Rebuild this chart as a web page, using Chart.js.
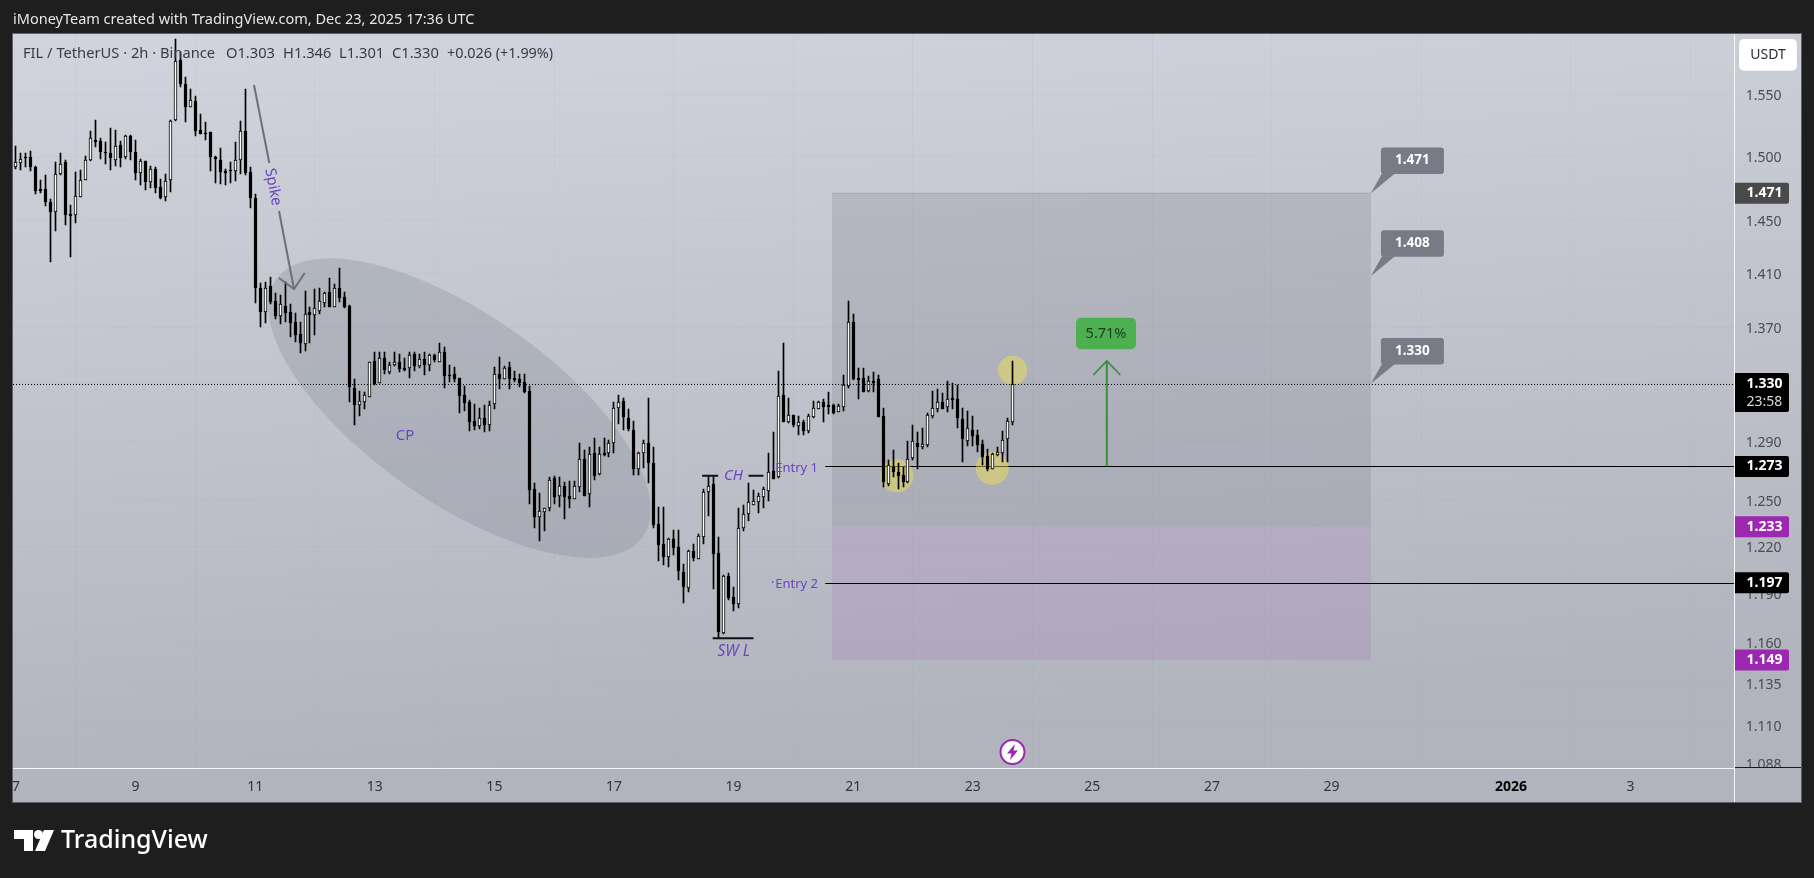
<!DOCTYPE html>
<html><head><meta charset="utf-8"><title>FIL / TetherUS</title>
<style>html,body{margin:0;padding:0;background:#1e1e1e;overflow:hidden}canvas{display:block}</style>
<script src="https://cdn.jsdelivr.net/npm/chart.js@4"></script></head>
<body><canvas id="c" width="1814" height="878" style="width:1814px;height:878px"></canvas>
<script>
const opens=[1.4915,1.4949,1.4994,1.4994,1.4915,1.4743,1.4743,1.4642,1.4567,1.4858,
1.4954,1.4549,1.4544,1.4683,1.4815,1.4972,1.5130,1.5120,1.5034,1.5026,
1.4972,1.5088,1.4994,1.5162,1.5034,1.4870,1.4960,1.4800,1.4897,1.4756,
1.4678,1.4811,1.5289,1.5784,1.5582,1.5399,1.5445,1.5210,1.5188,1.5191,
1.4994,1.4968,1.4884,1.4890,1.4882,1.4968,1.5202,1.4873,1.4670,1.3988,
1.3811,1.4005,1.3891,1.3786,1.3857,1.3813,1.3741,1.3655,1.3580,1.3813,
1.3789,1.3823,1.3877,1.3958,1.3852,1.3988,1.3921,1.3857,1.3267,1.3152,
1.3173,1.3209,1.3458,1.3307,1.3479,1.3382,1.3430,1.3451,1.3408,1.3408,
1.3510,1.3425,1.3472,1.3430,1.3500,1.3455,1.3522,1.3360,1.3369,1.3338,
1.3220,1.3171,1.3037,1.3005,1.3058,1.3012,1.3155,1.3367,1.3336,1.3416,
1.3340,1.3331,1.3312,1.3246,1.2577,1.2396,1.2429,1.2455,1.2650,1.2535,
1.2597,1.2533,1.2515,1.2594,1.2778,1.2548,1.2818,1.2677,1.2818,1.2818,
1.2887,1.3127,1.3178,1.3058,1.2975,1.2715,1.2823,1.2887,1.2751,1.2346,
1.2218,1.2136,1.2250,1.2199,1.2036,1.1935,1.2174,1.2124,1.2266,1.2557,
1.2610,1.2159,1.1658,1.2013,1.1882,1.1836,1.2324,1.2416,1.2475,1.2495,
1.2528,1.2568,1.2699,1.2657,1.3220,1.3034,1.3080,1.3007,1.3032,1.2971,
1.3067,1.3125,1.3169,1.3150,1.3150,1.3104,1.3138,1.3286,1.3738,1.3340,
1.3338,1.3246,1.3317,1.3333,1.3074,1.2612,1.2728,1.2695,1.2670,1.2628,
1.2789,1.2887,1.2864,1.2877,1.3075,1.3125,1.3171,1.3138,1.3199,1.3192,
1.3052,1.2904,1.2978,1.2943,1.2882,1.2800,1.2715,1.2807,1.2823,1.2918,1.303];
const highs=[1.5082,1.5024,1.5029,1.5042,1.4923,1.4813,1.4852,1.4665,1.4954,1.5024,
1.4968,1.4618,1.4876,1.4891,1.5002,1.5200,1.5291,1.5143,1.5114,1.5226,
1.5207,1.5124,1.5170,1.5170,1.5128,1.4976,1.4960,1.4923,1.4917,1.4821,
1.4858,1.5291,1.5960,1.5851,1.5640,1.5541,1.5486,1.5340,1.5275,1.5194,
1.5002,1.5066,1.4897,1.4957,1.5116,1.5283,1.5541,1.4913,1.4704,1.4030,
1.4035,1.4070,1.3955,1.3937,1.4037,1.3870,1.3803,1.3741,1.3966,1.3852,
1.3983,1.3988,1.3963,1.4063,1.4018,1.4137,1.3963,1.3864,1.3331,1.3248,
1.3241,1.3455,1.3522,1.3522,1.3522,1.3451,1.3522,1.3510,1.3479,1.3524,
1.3527,1.3508,1.3522,1.3510,1.3508,1.3587,1.3558,1.3432,1.3416,1.3338,
1.3284,1.3185,1.3157,1.3127,1.3150,1.3178,1.3420,1.3486,1.3427,1.3451,
1.3390,1.3369,1.3369,1.3284,1.2617,1.2551,1.2455,1.2657,1.2668,1.2657,
1.2624,1.2632,1.2632,1.2887,1.2841,1.2859,1.2921,1.2859,1.2925,1.2909,
1.3173,1.3220,1.3197,1.3122,1.3039,1.2829,1.2909,1.3197,1.2859,1.2462,
1.2458,1.2255,1.2309,1.2309,1.2089,1.2180,1.2218,1.2283,1.2577,1.2668,
1.2668,1.2262,1.2019,1.2030,1.1945,1.2451,1.2473,1.2617,1.2572,1.2551,
1.2594,1.2819,1.2966,1.3392,1.3587,1.3197,1.3080,1.3074,1.3046,1.3088,
1.3178,1.3178,1.3195,1.3241,1.3157,1.3157,1.3362,1.3894,1.3799,1.3408,
1.3408,1.3354,1.3385,1.3362,1.3127,1.2773,1.2841,1.2751,1.2728,1.2902,
1.3012,1.2962,1.2989,1.3093,1.3248,1.3263,1.3232,1.3319,1.3303,1.3291,
1.3127,1.3109,1.3074,1.2978,1.2909,1.2848,1.2823,1.2864,1.2971,1.3058,1.346];
const lows=[1.4899,1.4894,1.4913,1.4886,1.4704,1.4714,1.4611,1.4186,1.4422,1.4855,
1.4465,1.4224,1.4482,1.4680,1.4813,1.4965,1.5076,1.4978,1.4939,1.4891,
1.4925,1.4917,1.4980,1.4970,1.4813,1.4774,1.4735,1.4751,1.4714,1.4665,
1.4652,1.4719,1.5285,1.5558,1.5277,1.5396,1.5164,1.5178,1.5130,1.4886,
1.4792,1.4782,1.4776,1.4787,1.4808,1.4860,1.4852,1.4598,1.3881,1.3707,
1.3731,1.3872,1.3764,1.3724,1.3738,1.3635,1.3599,1.3515,1.3534,1.3592,
1.3647,1.3799,1.3852,1.3848,1.3848,1.3884,1.3845,1.3173,1.3012,1.3074,
1.3120,1.3209,1.3291,1.3303,1.3371,1.3371,1.3427,1.3385,1.3392,1.3342,
1.3392,1.3408,1.3364,1.3392,1.3453,1.3453,1.3272,1.3314,1.3312,1.3093,
1.3111,1.2971,1.2978,1.2986,1.2966,1.2973,1.3125,1.3263,1.3331,1.3263,
1.3314,1.3279,1.3237,1.2480,1.2324,1.2240,1.2304,1.2433,1.2480,1.2462,
1.2383,1.2451,1.2513,1.2561,1.2533,1.2462,1.2639,1.2673,1.2800,1.2791,
1.2823,1.3019,1.2978,1.2973,1.2673,1.2673,1.2721,1.2621,1.2324,1.2111,
1.2083,1.2072,1.2146,1.1987,1.1844,1.1914,1.2111,1.2122,1.2216,1.2402,
1.1932,1.1624,1.1650,1.1861,1.1794,1.1809,1.2302,1.2369,1.2473,1.2422,
1.2455,1.2499,1.2646,1.2652,1.3030,1.3028,1.3000,1.2943,1.2943,1.2955,
1.3058,1.3122,1.3034,1.3088,1.3088,1.3100,1.3109,1.3267,1.3326,1.3194,
1.3241,1.3244,1.3244,1.3067,1.2594,1.2601,1.2661,1.2579,1.2594,1.2617,
1.2773,1.2715,1.2850,1.2864,1.3061,1.3104,1.3122,1.3104,1.3122,1.2991,
1.2760,1.2870,1.2870,1.2829,1.2740,1.2701,1.2711,1.2802,1.2762,1.2758,1.301];
const closes=[1.4952,1.4976,1.4986,1.4917,1.4730,1.4727,1.4644,1.4567,1.4858,1.4936,
1.4544,1.4536,1.4686,1.4811,1.4968,1.5143,1.5114,1.5036,1.5029,1.4989,
1.5080,1.4989,1.5162,1.5036,1.4870,1.4960,1.4800,1.4897,1.4753,1.4672,
1.4803,1.5280,1.5773,1.5587,1.5399,1.5451,1.5204,1.5180,1.5180,1.4992,
1.4976,1.4878,1.4870,1.4884,1.4968,1.5200,1.4870,1.4675,1.3988,1.3815,
1.3988,1.3889,1.3784,1.3870,1.3808,1.3736,1.3650,1.3587,1.3798,1.3789,
1.3840,1.3891,1.3951,1.3852,1.3988,1.3918,1.3852,1.3279,1.3152,1.3178,
1.3220,1.3451,1.3298,1.3479,1.3397,1.3432,1.3455,1.3404,1.3399,1.3503,
1.3427,1.3472,1.3434,1.3500,1.3467,1.3522,1.3351,1.3351,1.3333,1.3215,
1.3166,1.3034,1.3005,1.3058,1.3010,1.3148,1.3367,1.3336,1.3408,1.3333,
1.3326,1.3303,1.3244,1.2572,1.2396,1.2431,1.2451,1.2639,1.2528,1.2597,
1.2528,1.2515,1.2597,1.2778,1.2535,1.2812,1.2668,1.2812,1.2807,1.2887,
1.3127,1.3169,1.3069,1.2986,1.2715,1.2823,1.2887,1.2755,1.2342,1.2214,
1.2136,1.2249,1.2194,1.2047,1.1945,1.2174,1.2127,1.2270,1.2557,1.2597,
1.2156,1.1664,1.2013,1.1872,1.1836,1.2320,1.2412,1.2491,1.2497,1.2533,
1.2577,1.2691,1.2648,1.3213,1.3034,1.3078,1.3012,1.3034,1.2971,1.3072,
1.3127,1.3171,1.3136,1.3138,1.3097,1.3143,1.3289,1.3741,1.3336,1.3328,
1.3244,1.3317,1.3305,1.3069,1.2628,1.2737,1.2695,1.2668,1.2628,1.2778,
1.2900,1.2864,1.2882,1.3078,1.3129,1.3169,1.3125,1.3190,1.3187,1.3059,
1.2918,1.2989,1.2939,1.2875,1.2795,1.2715,1.2814,1.2825,1.2907,1.3037,1.330];

const priceTicks=[1.55,1.5,1.45,1.41,1.37,1.33,1.29,1.25,1.22,1.19,1.16,1.135,1.11,1.088];
const timeTickIndex=[0,24,48,72,96,120,144,168,192,216,240,264,300,324];
const timeTickLabels=['7','9','11','13','15','17','19','21','23','25','27','29','2026','3'];
const axisTags=[[1.471,'#4a4a4a'],[1.273,'#000000'],[1.233,'#9c27b0'],[1.197,'#000000'],[1.149,'#9c27b0']];
const calloutPrices=[1.471,1.408,1.33];
const FONT='"Noto Sans"';
const PURPLE='#6a45c2';
const indexes=closes.map((_,i)=>i);

let panelGrad=null;
function label(ctx,t,x,y,font,color,align,base){ctx.font=font;ctx.fillStyle=color;ctx.textAlign=align||'left';ctx.textBaseline=base||'middle';ctx.fillText(t,x,y);}
function rr(ctx,x,y,w,h,r){ctx.beginPath();ctx.roundRect(x,y,w,h,r);}
function line(ctx,pts,color,w,dash){ctx.save();ctx.strokeStyle=color;ctx.lineWidth=w;ctx.setLineDash(dash||[]);ctx.beginPath();pts.forEach((p,i)=>i?ctx.lineTo(p[0],p[1]):ctx.moveTo(p[0],p[1]));ctx.stroke();ctx.restore();}

const overlay={id:'overlay',
 afterDatasetsUpdate(ch){ch.data.datasets.forEach((d,k)=>{ch.getDatasetMeta(k).data.forEach(el=>{
   el.x=Math.floor(el.x)+.5;el.y=Math.round(el.y);el.base=Math.round(el.base);
   if(Math.abs(el.base-el.y)<1)el.base=el.y+1;});});},
 beforeDraw(ch){const c=ch.ctx;c.save();c.fillStyle='#1e1e1e';c.fillRect(0,0,1814,878);
  panelGrad=c.createLinearGradient(0,34,60,802);panelGrad.addColorStop(0,'#d1d4dc');panelGrad.addColorStop(1,'#b1b4bd');
  c.fillStyle=panelGrad;c.fillRect(13,34,1788,768);
  c.strokeStyle='#5d5f66';c.lineWidth=1;c.strokeRect(12.5,33.5,1789,769);c.restore();},
 beforeDatasetsDraw(ch){const c=ch.ctx,x=ch.scales.x,y=ch.scales.y;c.save();
  const L=x.getPixelForValue(163.75),R=x.getPixelForValue(271.9);
  const T=y.getPixelForValue(1.471),M=y.getPixelForValue(1.233),B=y.getPixelForValue(1.149);
  c.fillStyle='rgba(120,123,134,0.23)';c.fillRect(L,T,R-L,M-T);
  c.fillStyle='rgba(156,39,176,0.1)';c.fillRect(L,M,R-L,B-M);
  line(c,[[L,T],[R,T]],'rgba(120,123,134,0.35)',1);
  c.fillStyle='rgba(120,123,134,0.25)';c.beginPath();
  c.ellipse(x.getPixelForValue(89),y.getPixelForValue(1.3129),224,94,35*Math.PI/180,0,Math.PI*2);c.fill();
  [1.273,1.197].forEach(p=>{const py=Math.round(y.getPixelForValue(p))+.5;line(c,[[x.getPixelForValue(162.4),py],[x.right,py]],'#000',1.2);});
  c.fillStyle='rgba(255,235,59,0.4)';
  [[176.8,1.2667,16.5],[195.9,1.2717,16.5],[200,1.3395,14.5]].forEach(a=>{c.beginPath();c.arc(x.getPixelForValue(a[0]),y.getPixelForValue(a[1]),a[2],0,Math.PI*2);c.fill();});
  c.restore();},
 afterDatasetsDraw(ch){const c=ch.ctx,x=ch.scales.x,y=ch.scales.y;c.save();
  const py=Math.round(y.getPixelForValue(1.33))+.5;
  line(c,[[13,py],[x.right,py]],'#000',1,[1,2]);
  line(c,[[13,768.5],[1735,768.5]],'#f4f5f7',1);
  const ch1=y.getPixelForValue(1.2667),sw=y.getPixelForValue(1.1624);
  line(c,[[x.getPixelForValue(137.7),ch1],[x.getPixelForValue(140.9),ch1]],'#111',2);
  line(c,[[x.getPixelForValue(147),ch1],[x.getPixelForValue(150),ch1]],'#111',2);
  line(c,[[x.getPixelForValue(139.8),sw],[x.getPixelForValue(148),sw]],'#111',2);
  label(c,'CH',724,476,'italic 15px '+FONT,PURPLE);
  label(c,'SW L',717.5,651.5,'italic 15.5px '+FONT,PURPLE);
  label(c,'CP',405,436,'15px '+FONT,PURPLE,'center');
  label(c,'Entry 1',818,468,'13px '+FONT,PURPLE,'right');
  label(c,'·',771,467,'13px '+FONT,PURPLE);
  label(c,'Entry 2',818,584,'13px '+FONT,PURPLE,'right');
  label(c,'·',771,583,'13px '+FONT,PURPLE);
  const sc='#6f7079';
  line(c,[[254,85],[269.3,163]],sc,2);line(c,[[279,211],[294,289]],sc,2);
  line(c,[[279,278],[294,289],[304.7,273]],sc,2);
  c.save();c.translate(273,187);c.rotate(79*Math.PI/180);label(c,'Spike',0,0,'15px '+FONT,PURPLE,'center');c.restore();
  const gx=x.getPixelForValue(218.9),gb=y.getPixelForValue(1.273),gt=y.getPixelForValue(1.346);
  line(c,[[gx,gb],[gx,gt]],'#388e3c',2);line(c,[[gx-13.5,gt+14],[gx,gt],[gx+13.5,gt+14]],'#388e3c',1.6);
  c.fillStyle='#4caf50';rr(c,1076,317.7,60,31.5,5);c.fill();
  label(c,'5.71%',1106,333.5,'14.5px '+FONT,'#1c3a1f','center');
  calloutPrices.forEach(p=>{const ax=x.getPixelForValue(271.9),ay=y.getPixelForValue(p),t=ay-45.6;
   c.fillStyle='#787b86';rr(c,ax+10,t,63,26.4,3);c.fill();
   c.beginPath();c.moveTo(ax,ay);c.lineTo(ax+11,t+26);c.lineTo(ax+24,t+26);c.closePath();c.fill();
   label(c,p.toFixed(3),ax+41.5,t+13,'bold 13.5px '+FONT,'#ffffff','center');});
  c.fillStyle='#fff';c.strokeStyle='#9c27b0';c.lineWidth=2;c.beginPath();c.arc(1012.5,752,12,0,Math.PI*2);c.fill();c.stroke();
  c.fillStyle='#9c27b0';c.beginPath();c.moveTo(1015,744);c.lineTo(1007,753.5);c.lineTo(1011.5,753.5);c.lineTo(1010,760);c.lineTo(1018,750.5);c.lineTo(1013.5,750.5);c.closePath();c.fill();
  c.restore();},
 afterDraw(ch){const c=ch.ctx,y=ch.scales.y;c.save();
  c.fillStyle=panelGrad;c.fillRect(1735,768,66,34);
  line(c,[[1734.5,34],[1734.5,802]],'#f4f5f7',1);
  line(c,[[1735,767.5],[1801,767.5]],'#1a1a1a',1);
  label(c,'iMoneyTeam created with TradingView.com, Dec 23, 2025 17:36 UTC',13,20,'14.5px '+FONT,'#e6e6e6');
  const lf='14.7px '+FONT,lc='#3a3c42';
  label(c,'FIL / TetherUS · 2h · Binance',23,53.5,lf,lc);
  label(c,'O1.303',226,53.5,lf,lc);label(c,'H1.346',283,53.5,lf,lc);label(c,'L1.301',339,53.5,lf,lc);
  label(c,'C1.330',392,53.5,lf,lc);label(c,'+0.026 (+1.99%)',447,53.5,'14.4px '+FONT,lc);
  c.fillStyle='#fff';rr(c,1739,39,58,31.7,5);c.fill();
  label(c,'USDT',1768,55,'14px '+FONT,'#2a2e39','center');
  axisTags.forEach(t=>{const py=y.getPixelForValue(t[0]);c.fillStyle=t[1];rr(c,1735,py-10.5,54,21,[0,2,2,0]);c.fill();
   label(c,t[0].toFixed(3),1746.5,py,'bold 14px '+FONT,'#fff');});
  const ly=y.getPixelForValue(1.33);c.fillStyle='#000';rr(c,1735,ly-10.5,54,39,[0,2,2,0]);c.fill();
  label(c,'1.330',1746.5,ly,'bold 14px '+FONT,'#fff');
  label(c,'23:58',1746.5,ly+18,'14px '+FONT,'#d8d8d8');
  c.fillStyle='#fff';c.beginPath();c.moveTo(14,830);c.lineTo(33,830);c.lineTo(33,851);c.lineTo(24,851);c.lineTo(24,839);c.lineTo(14,839);c.closePath();c.fill();
  c.beginPath();c.arc(38.5,834.5,4.5,0,Math.PI*2);c.fill();
  c.beginPath();c.moveTo(44,830);c.lineTo(54,830);c.lineTo(45,851);c.lineTo(35,851);c.closePath();c.fill();
  label(c,'TradingView',61,840.5,'500 25px '+FONT,'#fff');
  c.restore();}
};

new Chart(document.getElementById('c'),{
 type:'bar',
 data:{datasets:[
  {label:'Wick',order:2,grouped:false,barThickness:1,backgroundColor:'#000',borderWidth:0,
   data:indexes.map(i=>({x:i,y:[lows[i],highs[i]]}))},
  {label:'Body',order:1,grouped:false,barThickness:3,borderColor:'#000',borderWidth:1,borderSkipped:false,
   backgroundColor:indexes.map(i=>closes[i]>=opens[i]?'#ffffff':'#000000'),
   data:indexes.map(i=>({x:i,y:[opens[i],closes[i]]}))}
 ]},
 options:{responsive:false,animation:false,devicePixelRatio:1,
  layout:{padding:{left:13,top:34,right:13.3,bottom:76}},
  plugins:{legend:{display:false},tooltip:{enabled:false}},
  scales:{
   x:{type:'linear',min:-0.6,max:344.9,offset:false,
    afterBuildTicks(s){s.ticks=timeTickIndex.map(v=>({value:v}));},
    afterFit(s){s.height=34;},
    grid:{color:'rgba(125,130,150,0.06)',drawTicks:false},border:{display:false},
    ticks:{autoSkip:false,maxRotation:0,padding:11,
     callback:v=>timeTickLabels[timeTickIndex.indexOf(v)],
     font:c=>c.tick&&c.tick.value===300?{family:FONT,size:14,weight:'bold'}:{family:FONT,size:14},
     color:c=>c.tick&&c.tick.value===300?'#000':'#33353b'}},
   y:{type:'logarithmic',position:'right',min:1.0852,max:1.6003,
    afterBuildTicks(s){s.ticks=priceTicks.map(v=>({value:v}));},
    afterFit(s){s.width=66;},
    grid:{color:'rgba(125,130,150,0.06)',drawTicks:false},border:{display:false},
    ticks:{autoSkip:false,padding:11,labelOffset:1.5,callback:v=>Number(v).toFixed(3),font:{family:FONT,size:14},color:'#4a4c52'}}
  }},
 plugins:[overlay]
});
</script></body></html>
